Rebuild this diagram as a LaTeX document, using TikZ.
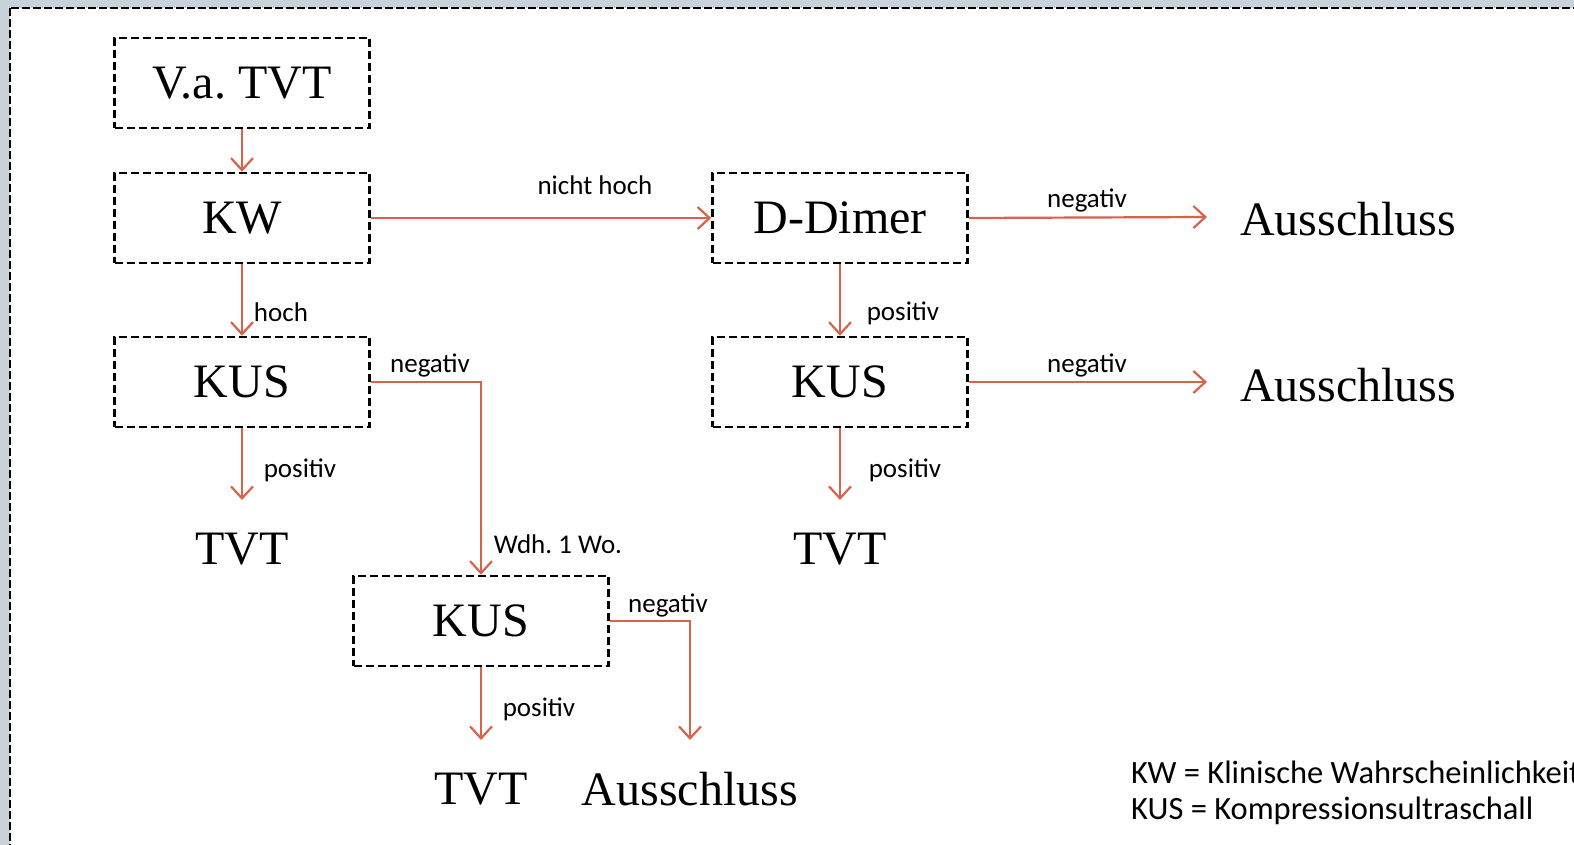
\documentclass[tikz,border=0pt]{standalone}
\usepackage{fontspec}
\setmainfont{Liberation Serif}
\newfontfamily\lblfont{Carlito}
\usetikzlibrary{arrows.meta}
\definecolor{bgpanel}{RGB}{200,210,216}
\definecolor{arrowred}{RGB}{217,99,74}
\frenchspacing
\begin{document}
\begin{tikzpicture}[x=1pt,y=-1pt,
  box/.style={draw=black,dash pattern=on 8pt off 4pt,line width=2.6pt,minimum width=255pt,minimum height=90pt,inner sep=0pt,font=\fontsize{48}{52}\selectfont},
  bigtxt/.style={inner sep=0pt,font=\fontsize{48}{52}\selectfont},
  arr/.style={draw=arrowred,line width=2.2pt,-{Straight Barb[length=12pt,width=22pt,line width=2.2pt]}},
  lbl/.style={inner sep=0pt,font=\lblfont\fontsize{27}{30}\selectfont},
  leg/.style={inner sep=0pt,anchor=west,font=\lblfont\fontsize{32.5}{38}\selectfont}]
\useasboundingbox (0,0) rectangle (1574,845);
\fill[bgpanel] (0,0) rectangle (1574,845);
\begin{scope}
\clip (0,0) rectangle (1574,845);
\draw[fill=white,line width=2.4pt,dash pattern=on 8pt off 3pt] (10,8) rectangle (1600,870);
\end{scope}
% boxes
\node[box] (va) at (242,83) {V.a. TVT};
\node[box] (kw) at (242,218) {KW};
\node[box] (kus1) at (242,382) {KUS};
\node[box] (dd) at (840,218) {D-Dimer};
\node[box] (kus2) at (840,382) {KUS};
\node[box] (kus3) at (481,621) {KUS};
% result texts
\node[bigtxt] (tvt1) at (242,549) {TVT};
\node[bigtxt] (tvt2) at (840,549) {TVT};
\node[bigtxt] (tvt3) at (481,789) {TVT};
\node[bigtxt] (aus1) at (1348,219) {Ausschluss};
\node[bigtxt] (aus2) at (1348,385) {Ausschluss};
\node[bigtxt] (aus3) at (690,789) {Ausschluss};
% arrow end coordinates
\coordinate (e1) at (1207,217);
\coordinate (e2) at (1207,382);
\coordinate (t1) at (242,500);
\coordinate (t2) at (840,500);
\coordinate (t3) at (481,740);
\coordinate (t4) at (690,740);
\coordinate (b1) at (481,382);
\coordinate (b2) at (690,621);
% arrows
\draw[arr] (va) -- (kw);
\draw[arr] (kw) -- (kus1);
\draw[arr] (kw.east) -- (dd.west);
\draw[arr] (dd.east) -- (e1);
\draw[arr] (dd) -- (kus2);
\draw[arr] (kus2.east) -- (e2);
\draw[arr] (kus2.south) -- (t2);
\draw[arr] (kus1.south) -- (t1);
\draw[arr] (kus1.east) -- (b1) -- (kus3.north);
\draw[arr] (kus3.south) -- (t3);
\draw[arr] (kus3.east) -- (b2) -- (t4);
% labels
\node[lbl] (l1) at (281,312) {hoch};
\node[lbl] (l2) at (595,185) {nicht hoch};
\node[lbl] (l3) at (1087,200) {negativ};
\node[lbl] (l4) at (903,313) {positiv};
\node[lbl] (l5) at (1087,365) {negativ};
\node[lbl] (l6) at (905,470) {positiv};
\node[lbl] (l7) at (300,470) {positiv};
\node[lbl] (l8) at (430,365) {negativ};
\node[lbl] (l9) at (558,544) {Wdh. 1 Wo.};
\node[lbl] (l10) at (539,709) {positiv};
\node[lbl] (l11) at (668,605) {negativ};
% legend
\node[leg] (leg1) at (1131,772) {KW = Klinische Wahrscheinlichkeit};
\node[leg] (leg2) at (1131,811) {KUS = Kompressionsultraschall};
\end{tikzpicture}
\end{document}
